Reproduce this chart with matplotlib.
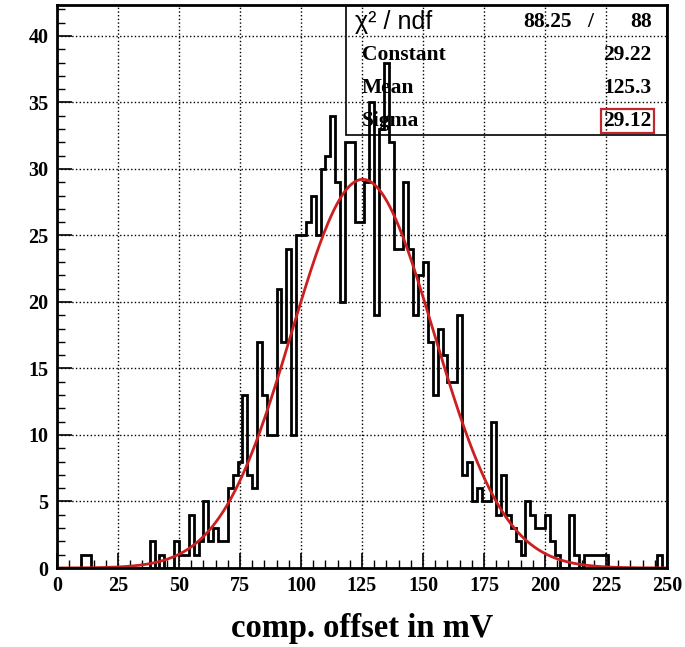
import numpy as np
import matplotlib
matplotlib.use('Agg')
import matplotlib.pyplot as plt
from matplotlib.patches import Rectangle

# histogram: 125 bins of width 2 mV between 0 and 250
bin_edges = np.arange(0, 252, 2)
counts = [
    0, 0, 0, 0, 0, 1, 1, 0, 0, 0,          # 0-20
    0, 0, 0, 0, 0, 0, 0, 0, 0, 2,          # 20-40
    0, 1, 0, 0, 2, 1, 1, 4, 1, 2,          # 40-60
    5, 2, 3, 2, 2, 6, 7, 8, 13, 7,         # 60-80
    6, 17, 13, 10, 10, 21, 17, 24, 10, 25, # 80-100
    25, 26, 28, 25, 30, 31, 34, 29, 20, 32,  # 100-120
    32, 26, 26, 29, 35, 19, 33, 38, 32, 24,  # 120-140
    24, 29, 24, 19, 22, 23, 17, 13, 18, 16,  # 140-160
    14, 14, 19, 7, 8, 5, 6, 5, 5, 11,      # 160-180
    4, 7, 4, 3, 2, 1, 5, 4, 3, 3,          # 180-200
    4, 2, 1, 0, 0, 4, 1, 0, 1, 1,          # 200-220
    1, 1, 1, 0, 0, 0, 0, 0, 0, 0,          # 220-240
    0, 0, 0, 1, 0,                         # 240-250
]

# gaussian fit result
fit_const = 29.22
fit_mean = 125.3
fit_sigma = 29.12
chi2 = "88.25"
ndf = "88"

x_ticks = [0, 25, 50, 75, 100, 125, 150, 175, 200, 225, 250]
y_ticks = [0, 5, 10, 15, 20, 25, 30, 35, 40]
x_title = "comp. offset in mV"

serif = ['Liberation Serif', 'DejaVu Serif']

fig = plt.figure(figsize=(6.85, 6.47), dpi=100)
ax = fig.add_axes([0.0832, 0.1221, 0.8905, 0.8702])

ax.stairs(counts, bin_edges, color='black', lw=2)

xf = np.linspace(0, 250, 600)
yf = fit_const * np.exp(-0.5 * ((xf - fit_mean) / fit_sigma) ** 2)
ax.plot(xf, yf, color='#cc1f1f', lw=2)

ax.set_xlim(0, 250)
ax.set_ylim(0, 42.33)
ax.set_xticks(x_ticks)
ax.set_yticks(y_ticks)
ax.set_xticks(np.arange(0, 251, 5), minor=True)
ax.set_yticks(np.arange(0, 43, 1), minor=True)
ax.tick_params(which='both', direction='in', top=False, right=False)
ax.tick_params(which='major', length=11, width=1.2, pad=6)
ax.tick_params(which='minor', length=6, width=1)
ax.grid(True, which='major', color='black', linestyle=':', lw=1)
for s in ax.spines.values():
    s.set_linewidth(2)

for lab in ax.get_xticklabels() + ax.get_yticklabels():
    lab.set_family(serif)
    lab.set_fontweight('bold')
    lab.set_fontsize(14.5)

ax.set_xlabel(x_title, family=serif, fontweight='bold', fontsize=23.5, labelpad=12)

# stats box
ax.add_patch(Rectangle((0.474, 0.769), 0.526, 0.231, transform=ax.transAxes,
                       fill=False, edgecolor='black', lw=1.2, zorder=5))
row_y = [0.970, 0.911, 0.853, 0.794]
tx = dict(transform=ax.transAxes, va='center', fontsize=15.5)
ax.text(0.489, row_y[0], "χ² / ndf", family=['Liberation Sans', 'DejaVu Sans'],
        fontsize=18, transform=ax.transAxes, va='center')
ax.text(0.844, row_y[0], chi2, ha='right', family=serif, fontweight='bold', **tx)
ax.text(0.874, row_y[0], "/", ha='center', family=serif, fontweight='bold', **tx)
ax.text(0.975, row_y[0], ndf, ha='right', family=serif, fontweight='bold', **tx)
for name, val, y in zip(["Constant", "Mean", "Sigma"],
                        [fit_const, fit_mean, fit_sigma], row_y[1:]):
    ax.text(0.5, y, name, family=serif, fontweight='bold', **tx)
    if name == "Sigma":
        ax.text(0.975, y, f"{val:.2f}", ha='right', family=serif, fontweight='bold',
                bbox=dict(facecolor='none', edgecolor='#c0282d', lw=1.6, pad=1.5), **tx)
    else:
        txt = f"{val:.2f}" if name == "Constant" else f"{val:.1f}"
        ax.text(0.975, y, txt, ha='right', family=serif, fontweight='bold', **tx)

fig.savefig('out.png', dpi=100)
